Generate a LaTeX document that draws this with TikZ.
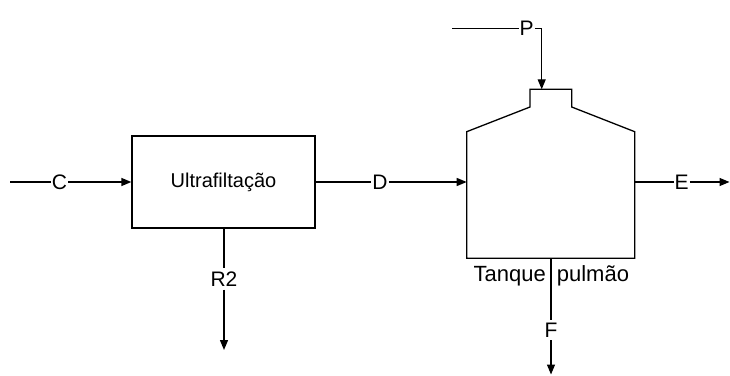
\documentclass[tikz,border=0pt]{standalone}
\usepackage{fontspec}
\setmainfont{Liberation Sans}
\usetikzlibrary{arrows.meta}
\begin{document}
\begin{tikzpicture}[x=1pt,y=1pt,
  line/.style={line width=1.3pt},
  arr/.style={line width=1.3pt,-{Triangle[length=10pt,width=8pt]}},
  lbl/.style={inner sep=1pt,font=\fontsize{21}{25}\selectfont},
  unit/.style={draw,line width=1.3pt,minimum width=183pt,minimum height=92pt,inner sep=0pt,font=\fontsize{20}{24}\selectfont}]
\useasboundingbox (0,0) rectangle (730,375);
% Ultrafiltration unit
\node[unit] (uf) at (223.5,193) {Ultrafiltação};
% Tank
\draw[line] (466.7,116.7) -- (634.7,116.7) -- (634.7,243.3) -- (571.7,268) -- (571.7,285.7)
  -- (530,285.7) -- (530,268) -- (466.7,243.3) -- cycle;
\coordinate (tankW) at (466.7,193);
\coordinate (tankE) at (634.7,193);
\coordinate (tankTop) at (541.7,285.7);
\coordinate (tankBot) at (551,116.7);
\node[font=\fontsize{22}{26}\selectfont,inner sep=0pt] (tname) at (551.3,99) {Tanque\kern5pt{} pulmão};
% free ends
\coordinate (cin) at (10,193);
\coordinate (pin) at (452,346.3);
\coordinate (pcorner) at (541.7,346.3);
\coordinate (eout) at (729.5,193);
\coordinate (fout) at (551,0.5);
\coordinate (rout) at (224,25);
% labels
\node[lbl] (C) at (59.5,193) {C};
\node[lbl] (D) at (380,193) {D};
\node[lbl] (E) at (681.7,193) {E};
\node[lbl] (P) at (526.7,346.3) {P};
\node[lbl,inner sep=3pt] (R2) at (224,96) {R2};
\node[lbl,inner sep=3pt] (F) at (551,45) {F};
% connectors
\draw[line] (cin) -- (C);
\draw[arr] (C) -- (uf.west);
\draw[line] (uf.east) -- (D);
\draw[arr] (D) -- (tankW);
\draw[line] (tankE) -- (E);
\draw[arr] (E) -- (eout);
\draw[line] (pin) -- (P);
\draw[arr] (P) -- (pcorner) -- (tankTop);
\draw[line] (uf.south -| rout) -- (R2);
\draw[arr] (R2) -- (rout);
\draw[line] (tankBot) -- (F);
\draw[arr] (F) -- (fout);
\end{tikzpicture}
\end{document}
